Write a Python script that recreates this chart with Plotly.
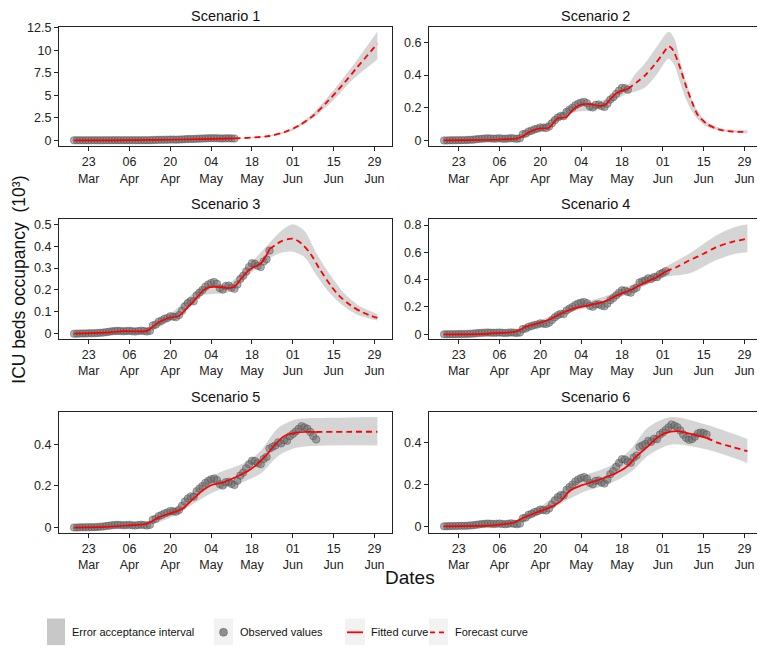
import pandas as pd
import plotly.graph_objects as go
from plotly.subplots import make_subplots

W, H = 765, 651
YEAR = 2020


def D(md):
    return f"{YEAR}-{md}"


# ---------------- data ----------------
obs_start = "03-18"
observed = [
    0.000, 0.000, 0.001, 0.001, 0.001, 0.002, 0.002, 0.002, 0.003, 0.004,  # Mar 18-27
    0.005, 0.007, 0.009, 0.011,                                              # Mar 28-31
    0.012, 0.013, 0.012, 0.011, 0.012, 0.013, 0.011, 0.010, 0.012, 0.014,  # Apr 1-10
    0.012, 0.010, 0.013, 0.038, 0.042, 0.055, 0.060, 0.068, 0.072, 0.080,  # Apr 11-20
    0.078, 0.076, 0.085, 0.105, 0.125, 0.140, 0.150, 0.148, 0.175, 0.188,  # Apr 21-30
    0.200, 0.215, 0.225, 0.232, 0.236, 0.228, 0.208, 0.202, 0.218, 0.220,  # May 1-10
    0.210, 0.205, 0.225, 0.250, 0.265, 0.285, 0.305, 0.322, 0.320, 0.310,  # May 11-20
    0.305, 0.330, 0.340, 0.380, 0.388, 0.395, 0.410, 0.405, 0.420, 0.418,  # May 21-30
    0.440,                                                                   # May 31
    0.450, 0.462, 0.475, 0.488, 0.482, 0.475, 0.460, 0.440, 0.424, 0.415,  # Jun 1-10
    0.418, 0.430, 0.445, 0.450, 0.447, 0.440,                              # Jun 11-16
]
obs_end = ["05-12", "05-20", "05-24", "06-02", "06-09", "06-16"]

scenario_titles = ["Scenario 1", "Scenario 2", "Scenario 3",
                   "Scenario 4", "Scenario 5", "Scenario 6"]

tick_dates = ["03-23", "04-06", "04-20", "05-04", "05-18", "06-01", "06-15", "06-29"]
tick_labels = ["23<br>Mar", "06<br>Apr", "20<br>Apr", "04<br>May",
               "18<br>May", "01<br>Jun", "15<br>Jun", "29<br>Jun"]

y_ticks = [
    [0, 2.5, 5, 7.5, 10, 12.5],
    [0, 0.2, 0.4, 0.6],
    [0, 0.1, 0.2, 0.3, 0.4, 0.5],
    [0, 0.2, 0.4, 0.6, 0.8],
    [0, 0.2, 0.4],
    [0, 0.2, 0.4],
]

# Scenario 1
s1_fit_dates = ["03-18", "04-01", "04-15", "04-25", "05-05", "05-12"]
s1_fit = [0.0, 0.005, 0.04, 0.09, 0.16, 0.22]
s1_fc_dates = ["05-12", "05-18", "05-24", "05-29", "06-03", "06-08", "06-13",
               "06-18", "06-23", "06-30"]
s1_fc = [0.22, 0.30, 0.48, 0.90, 1.62, 2.75, 4.35, 6.15, 8.1, 10.75]
s1_band_dates = ["03-18", "05-12", "05-24", "06-01", "06-08", "06-15", "06-22", "06-30"]
s1_lo = [0.0, 0.18, 0.44, 1.1, 2.5, 4.5, 6.9, 9.0]
s1_hi = [0.01, 0.26, 0.54, 1.4, 3.05, 5.6, 8.5, 12.1]

# Scenario 2
s2_fit_dates = ["03-18", "03-28", "04-06", "04-12", "04-14", "04-16", "04-18",
                "04-20", "04-23", "04-25", "04-26", "04-29", "05-01", "05-04",
                "05-07", "05-10", "05-12", "05-14", "05-16", "05-18", "05-20"]
s2_fit = [0.0, 0.002, 0.006, 0.012, 0.026, 0.050, 0.065, 0.073, 0.078, 0.118,
          0.136, 0.143, 0.185, 0.220, 0.222, 0.212, 0.215, 0.252, 0.288, 0.305, 0.315]
s2_fc_dates = ["05-20", "05-23", "05-26", "05-29", "06-01", "06-03", "06-04",
               "06-05", "06-07", "06-09", "06-11", "06-13", "06-16", "06-20",
               "06-25", "06-30"]
s2_fc = [0.315, 0.355, 0.40, 0.46, 0.53, 0.576, 0.565, 0.535, 0.44, 0.33, 0.235,
         0.155, 0.103, 0.068, 0.054, 0.052]
s2_band_dates = ["03-18", "04-12", "04-20", "05-01", "05-10", "05-20", "05-22",
                 "05-26", "05-30", "06-03", "06-05", "06-07", "06-09", "06-12",
                 "06-16", "06-22", "06-30"]
s2_lo = [0.0, 0.005, 0.06, 0.17, 0.19, 0.29, 0.295, 0.325, 0.405, 0.50, 0.46,
         0.35, 0.25, 0.15, 0.085, 0.055, 0.042]
s2_hi = [0.005, 0.02, 0.09, 0.21, 0.235, 0.34, 0.395, 0.475, 0.575, 0.665, 0.62,
         0.48, 0.36, 0.21, 0.115, 0.07, 0.062]

# Scenario 3
s3_fit_dates = ["03-18", "03-30", "04-04", "04-12", "04-14", "04-17", "04-20",
                "04-23", "04-25", "04-28", "05-01", "05-03", "05-06", "05-10",
                "05-12", "05-14", "05-17", "05-19", "05-21", "05-23", "05-24"]
s3_fit = [0.0, 0.006, 0.012, 0.013, 0.033, 0.059, 0.074, 0.081, 0.108, 0.149,
          0.194, 0.212, 0.214, 0.209, 0.215, 0.247, 0.292, 0.307, 0.322, 0.36, 0.387]
s3_fc_dates = ["05-24", "05-26", "05-28", "06-01", "06-04", "06-07", "06-10",
               "06-14", "06-17", "06-21", "06-25", "06-30"]
s3_fc = [0.387, 0.405, 0.422, 0.435, 0.412, 0.367, 0.30, 0.22, 0.172, 0.128,
         0.097, 0.072]
s3_band_dates = ["03-18", "04-12", "04-20", "05-01", "05-10", "05-17", "05-24",
                 "05-28", "06-01", "06-05", "06-09", "06-14", "06-19", "06-24", "06-30"]
s3_lo = [0.0, 0.005, 0.06, 0.175, 0.19, 0.27, 0.345, 0.37, 0.375, 0.35, 0.27,
         0.18, 0.12, 0.082, 0.06]
s3_hi = [0.005, 0.02, 0.09, 0.215, 0.23, 0.315, 0.415, 0.47, 0.50, 0.47, 0.37,
         0.265, 0.18, 0.125, 0.09]

# Scenario 4
s4_fit_dates = ["03-18", "03-30", "04-07", "04-12", "04-15", "04-20", "04-23",
                "04-27", "05-01", "05-07", "05-12", "05-16", "05-21", "05-25",
                "05-30", "06-02"]
s4_fit = [0.0, 0.002, 0.01, 0.022, 0.055, 0.085, 0.106, 0.15, 0.185, 0.214,
          0.24, 0.283, 0.325, 0.37, 0.42, 0.46]
s4_fc_dates = ["06-02", "06-06", "06-10", "06-15", "06-19", "06-24", "06-30"]
s4_fc = [0.46, 0.495, 0.54, 0.59, 0.635, 0.672, 0.70]
s4_band_dates = ["03-18", "04-12", "04-20", "05-01", "05-15", "06-02", "06-10",
                 "06-19", "06-25", "06-30"]
s4_lo = [0.0, 0.012, 0.07, 0.165, 0.25, 0.42, 0.445, 0.54, 0.585, 0.60]
s4_hi = [0.005, 0.03, 0.10, 0.205, 0.30, 0.495, 0.59, 0.72, 0.78, 0.805]

# Scenario 5
s5_fit_dates = ["03-18", "03-29", "04-05", "04-12", "04-16", "04-21", "04-24",
                "04-28", "05-01", "05-04", "05-08", "05-12", "05-16", "05-19",
                "05-23", "05-26", "05-29", "06-02", "06-05", "06-09"]
s5_fit = [0.0, 0.003, 0.01, 0.018, 0.049, 0.073, 0.089, 0.14, 0.177, 0.204,
          0.217, 0.24, 0.267, 0.296, 0.35, 0.40, 0.44, 0.456, 0.46, 0.46]
s5_fc_dates = ["06-09", "06-20", "06-30"]
s5_fc = [0.46, 0.461, 0.461]
s5_band_dates = ["03-18", "04-12", "04-21", "05-04", "05-16", "05-21", "05-27",
                 "06-02", "06-14", "06-30"]
s5_lo = [0.0, 0.01, 0.055, 0.165, 0.225, 0.26, 0.345, 0.384, 0.395, 0.395]
s5_hi = [0.005, 0.028, 0.09, 0.245, 0.315, 0.37, 0.48, 0.52, 0.528, 0.532]

# Scenario 6
s6_fit_dates = ["03-18", "03-30", "04-05", "04-11", "04-14", "04-19", "04-23",
                "04-27", "04-30", "05-04", "05-07", "05-12", "05-16", "05-20",
                "05-23", "05-27", "05-30", "06-02", "06-06", "06-09", "06-13", "06-16"]
s6_fit = [0.0, 0.002, 0.006, 0.018, 0.04, 0.068, 0.089, 0.121, 0.169, 0.196,
          0.209, 0.233, 0.256, 0.29, 0.336, 0.384, 0.424, 0.448, 0.456, 0.448,
          0.435, 0.424]
s6_fc_dates = ["06-16", "06-20", "06-25", "06-30"]
s6_fc = [0.424, 0.40, 0.38, 0.36]
s6_band_dates = ["03-18", "04-11", "04-19", "05-04", "05-14", "05-21", "05-27",
                 "06-04", "06-16", "06-30"]
s6_lo = [0.0, 0.01, 0.05, 0.16, 0.205, 0.26, 0.34, 0.392, 0.368, 0.304]
s6_hi = [0.005, 0.028, 0.085, 0.235, 0.29, 0.37, 0.475, 0.524, 0.487, 0.419]

legend_labels = ["Error acceptance interval", "Observed values",
                 "Fitted curve", "Forecast curve"]
y_title = "ICU beds occupancy  (10³)"
x_title = "Dates"

# ---------------- styling ----------------
FONT = "Liberation Sans, Arial, sans-serif"
BAND = "rgb(213,213,213)"
RED = "#ff0000"
PT_FILL = "rgba(110,110,110,0.55)"
PT_LINE = "rgba(70,70,70,0.5)"

scen = [
    (s1_fit_dates, s1_fit, s1_fc_dates, s1_fc, s1_band_dates, s1_lo, s1_hi),
    (s2_fit_dates, s2_fit, s2_fc_dates, s2_fc, s2_band_dates, s2_lo, s2_hi),
    (s3_fit_dates, s3_fit, s3_fc_dates, s3_fc, s3_band_dates, s3_lo, s3_hi),
    (s4_fit_dates, s4_fit, s4_fc_dates, s4_fc, s4_band_dates, s4_lo, s4_hi),
    (s5_fit_dates, s5_fit, s5_fc_dates, s5_fc, s5_band_dates, s5_lo, s5_hi),
    (s6_fit_dates, s6_fit, s6_fc_dates, s6_fc, s6_band_dates, s6_lo, s6_hi),
]

# page offset of the plot div (browser body margin)
OFF = 8


def px(x):
    return (x - OFF) / W


def py(y):
    return 1 - (y - OFF) / H


# panel pixel boxes in screen coordinates (left, right) / (top, bottom)
cols_px = [(59, 392), (429, 762)]
rows_px = [(22, 143), (217, 338), (412, 534)]
title_shift = [0.5, 5, 5]
y_ranges = [(-0.67, 12.63), (-0.036, 0.695), (-0.024, 0.5226),
            (-0.034, 0.841), (-0.024, 0.556), (-0.030, 0.548)]
x_range = [f"{YEAR}-03-12 20:00", f"{YEAR}-07-05 00:00"]

fig = make_subplots(rows=3, cols=2)

obs_dates = pd.date_range(D(obs_start), periods=len(observed), freq="D")

for i, (fd, fv, cd, cv, bd, lo, hi) in enumerate(scen):
    r, c = i // 2 + 1, i % 2 + 1
    bdx = [D(x) for x in bd]
    fig.add_trace(go.Scatter(x=bdx, y=lo, mode="lines",
                             line=dict(width=0, shape="spline", smoothing=0.8),
                             hoverinfo="skip", showlegend=False), row=r, col=c)
    fig.add_trace(go.Scatter(x=bdx, y=hi, mode="lines", fill="tonexty", fillcolor=BAND,
                             line=dict(width=0, shape="spline", smoothing=0.8),
                             name=legend_labels[0], showlegend=False), row=r, col=c)
    end = pd.Timestamp(D(obs_end[i]))
    mask = obs_dates <= end
    fig.add_trace(go.Scatter(x=obs_dates[mask], y=[v for v, m in zip(observed, mask) if m],
                             mode="markers", name=legend_labels[1], showlegend=False,
                             marker=dict(size=7.5, color=PT_FILL,
                                         line=dict(color=PT_LINE, width=0.8))),
                  row=r, col=c)
    fig.add_trace(go.Scatter(x=[D(x) for x in fd], y=fv, mode="lines", name=legend_labels[2],
                             showlegend=False,
                             line=dict(color=RED, width=1.7, shape="spline", smoothing=0.8)),
                  row=r, col=c)
    fig.add_trace(go.Scatter(x=[D(x) for x in cd], y=cv, mode="lines", name=legend_labels[3],
                             showlegend=False,
                             line=dict(color=RED, width=1.8, dash="6px,4px",
                                       shape="spline", smoothing=0.8)),
                  row=r, col=c)

annotations = []
for i in range(6):
    r, c = i // 2, i % 2
    (xl, xr), (yt, yb) = cols_px[c], rows_px[r]
    ax = "" if i == 0 else str(i + 1)
    fig.layout[f"xaxis{ax}"].update(
        domain=[px(xl), px(xr)], range=x_range, tickvals=[D(t) for t in tick_dates],
        ticktext=tick_labels, ticks="outside", ticklen=4, tickcolor="#222",
        showline=True, mirror=True, linecolor="#222", linewidth=1.3, showgrid=False,
        zeroline=False, tickfont=dict(family=FONT, size=12.5, color="#222"))
    fig.layout[f"yaxis{ax}"].update(
        domain=[py(yb), py(yt)], range=list(y_ranges[i]), tickvals=y_ticks[i],
        ticks="outside", ticklen=4, tickcolor="#222", showline=True, mirror=True,
        linecolor="#222", linewidth=1.3, showgrid=False, zeroline=False,
        tickfont=dict(family=FONT, size=12.5, color="#222"))
    annotations.append(dict(text=scenario_titles[i], x=px((xl + xr) / 2), y=py(yt),
                            xref="paper", yref="paper", xanchor="center", yanchor="bottom",
                            yshift=title_shift[r], showarrow=False,
                            font=dict(family=FONT, size=14.5, color="#111")))

annotations.append(dict(text=y_title, x=px(19), y=py(278), xref="paper", yref="paper",
                        textangle=-90, showarrow=False, xanchor="center", yanchor="middle",
                        font=dict(family=FONT, size=17.5, color="#111")))
annotations.append(dict(text=x_title, x=px(410), y=py(580), xref="paper", yref="paper",
                        showarrow=False, xanchor="center", yanchor="middle",
                        font=dict(family=FONT, size=19, color="#111")))

# manual legend (drawn with shapes + text)
shapes = []
ly = 635
key_boxes = [(47, 65), (214, 233), (345, 365), (429, 448)]
text_x = [70, 238, 369, 453]
for k, (x0, x1) in enumerate(key_boxes):
    shapes.append(dict(type="rect", xref="paper", yref="paper", x0=px(x0), x1=px(x1),
                       y0=py(648), y1=py(621), line=dict(width=0),
                       fillcolor="rgb(200,200,200)" if k == 0 else "rgb(242,242,242)"))
shapes.append(dict(type="circle", xref="paper", yref="paper", x0=px(219.5), x1=px(227.5),
                   y0=py(639), y1=py(631), fillcolor="rgba(110,110,110,0.75)",
                   line=dict(color=PT_LINE, width=0.8)))
shapes.append(dict(type="line", xref="paper", yref="paper", x0=px(347), x1=px(363),
                   y0=py(ly), y1=py(ly), line=dict(color=RED, width=1.8)))
shapes.append(dict(type="line", xref="paper", yref="paper", x0=px(430), x1=px(447),
                   y0=py(ly), y1=py(ly), line=dict(color=RED, width=1.8, dash="5px,4px")))
for k, t in enumerate(legend_labels):
    annotations.append(dict(text=t, x=px(text_x[k]), y=py(ly), xref="paper", yref="paper",
                            xanchor="left", yanchor="middle", showarrow=False,
                            font=dict(family=FONT, size=11, color="#111")))

fig.update_layout(width=W, height=H, margin=dict(l=0, r=0, t=0, b=0),
                  plot_bgcolor="white", paper_bgcolor="white",
                  annotations=annotations, shapes=shapes, showlegend=False,
                  font=dict(family=FONT))

fig.write_html("out.html")
